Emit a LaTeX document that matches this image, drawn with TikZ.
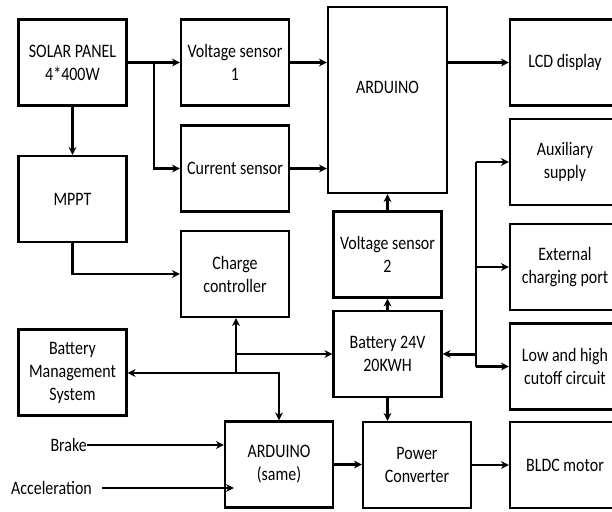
\documentclass[tikz,border=0pt]{standalone}
\usepackage{fontspec}
\setmainfont{Carlito}[FakeStretch=0.84]
\usetikzlibrary{arrows.meta,positioning}

\begin{document}
\begin{tikzpicture}[x=1pt,y=-1pt,
  blk/.style={draw,line width=2.2pt,minimum width=108pt,minimum height=86pt,
              align=center,inner sep=2pt,font=\fontsize{19}{23}\selectfont},
  wide/.style={blk,minimum width=110pt},
  link/.style={line width=2.2pt,-{Stealth[length=8pt,width=8pt]}},
  bus/.style={line width=2.2pt},
  lbl/.style={font=\fontsize{19}{23}\selectfont,inner sep=0pt}]
\clip (0,0) rectangle (612,511);

% left column
\node[blk] (solar) at (72.5,62.5) {SOLAR PANEL\\4*400W};
\node[blk] (mppt)  at (72.5,199)  {MPPT};
\node[blk] (bms)   at (72.5,372.5){Battery\\Management\\System};
\node[lbl,anchor=east] (brake) at (87,445) {Brake};
\node[lbl,anchor=east] (accel) at (92,488) {Acceleration};

% sensors and controllers
\node[blk] (vsa)    at (235,62.5) {Voltage sensor\\1};
\node[blk] (cur)    at (235,168.5){Current sensor};
\node[blk] (charge) at (235,274)  {Charge\\controller};
\node[blk] (ardb)   at (279,464.5){ARDUINO\\(same)};

% middle column
\node[blk,minimum width=119pt,minimum height=186pt,
      label={[lbl,yshift=13pt]center:ARDUINO}] (ard) at (387.5,100) {};
\node[blk] (vsb)  at (387.5,254.5){Voltage sensor\\2};
\node[blk] (bat)  at (387.5,354)  {Battery 24V\\20KWH};
\node[blk] (conv) at (417,465)    {Power\\Converter};

% right column
\node[wide] (lcd)  at (565,62.5) {LCD display};
\node[wide] (aux)  at (565,162)  {Auxiliary\\supply};
\node[wide] (ext)  at (565,267)  {External\\charging port};
\node[wide] (cut)  at (565,366.5){Low and high\\cutoff circuit};
\node[wide] (bldc) at (565,465)  {BLDC motor};

% solar side
\coordinate (sp) at (154,62.5);
\draw[link] (solar) -- (vsa);
\draw[link] (sp) |- (cur.west);
\draw[link] (solar) -- (mppt);
\draw[link] (mppt.south) |- (charge.west);
\draw[link] (vsa.east) -- (vsa.east -| ard.west);
\draw[link] (cur.east) -- (cur.east -| ard.west);
\draw[link] (ard.east |- lcd.west) -- (lcd.west);

% battery
\draw[link] (vsb) -- (ard);
\draw[link] (bat) -- (vsb);
\draw[link] (bat.south) -- (bat.south |- conv.north);
\coordinate (jn) at (236,354);
\coordinate (kn) at (236,373);
\draw[link] (jn) -- (bat.west);
\draw[link] (kn) -- (kn |- charge.south);
\draw[link] (kn) -- (kn -| bms.east);
\draw[link] (kn) -| (ardb.north);

% right bus
\coordinate (rb) at (476,354);
\draw[link,line width=3pt] (rb) -- (bat.east);
\draw[bus] (rb |- aux.west) -- (rb |- cut.west);
\foreach \n in {aux,ext,cut} \draw[link] (rb |- \n.west) -- (\n.west);

% drive
\draw[link] (brake.east) -- (brake.east -| ardb.west);
\draw[link] ([xshift=10pt]accel.east) -- ([xshift=10pt]accel.east -| ardb.west);
\draw[link] (ardb.east) -- (ardb.east -| conv.west);
\draw[link] (conv) -- (bldc);
\end{tikzpicture}
\end{document}
